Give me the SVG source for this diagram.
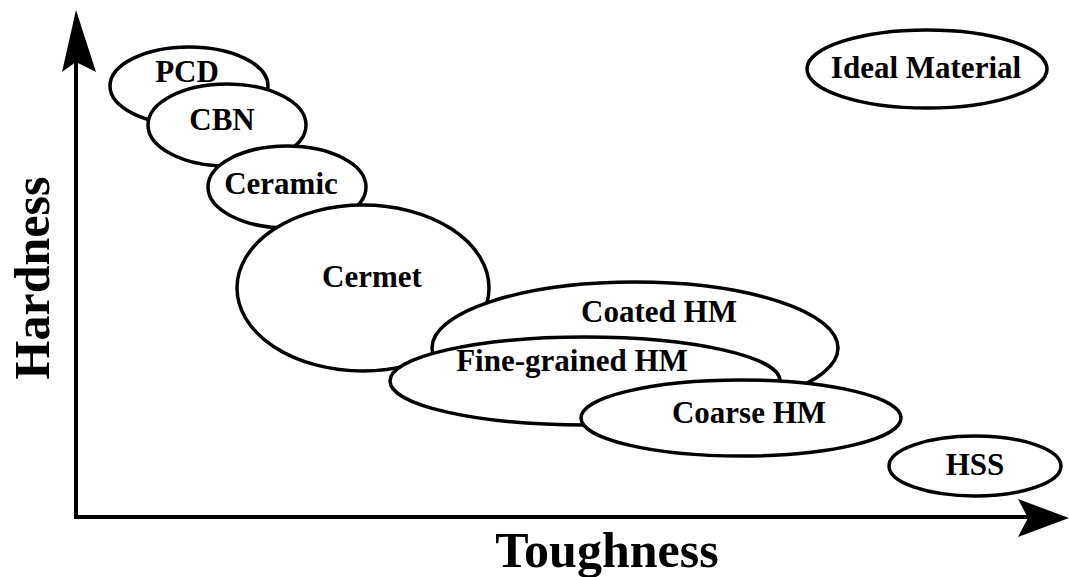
<svg xmlns="http://www.w3.org/2000/svg" width="1069" height="577" viewBox="0 0 1069 577">
<style>
.n ellipse{fill:#fff;stroke:#000;stroke-width:3.5}
text{font-family:"Liberation Serif","DejaVu Serif",serif;font-weight:bold;fill:#000;text-anchor:middle}
.l{font-size:31px}
.ax{font-size:50px}
</style>
<rect width="1069" height="577" fill="#fff"/>
<g id="connectors">
<polyline points="76,60 76,517 1030,517" fill="none" stroke="#000" stroke-width="4"/>
<polygon points="76,10 96,72 76,62 62,72" fill="#000"/>
<polygon points="1069,518 1018,537 1028,518 1018,499" fill="#000"/>
</g>
<g id="pcd" class="n"><ellipse cx="189" cy="86" rx="79" ry="39"/></g>
<g id="cbn" class="n"><ellipse cx="227" cy="125" rx="79" ry="41"/></g>
<g id="ceramic" class="n"><ellipse cx="287" cy="187" rx="79" ry="41"/></g>
<g id="cermet" class="n"><ellipse cx="363" cy="288" rx="126" ry="83"/></g>
<g id="coated" class="n"><ellipse cx="635" cy="348" rx="203" ry="66"/></g>
<g id="fine" class="n"><ellipse cx="585" cy="381" rx="195" ry="44"/></g>
<g id="coarse" class="n"><ellipse cx="741" cy="418" rx="160" ry="38"/></g>
<g id="ideal" class="n"><ellipse cx="927" cy="69" rx="120" ry="39"/></g>
<g id="hss" class="n"><ellipse cx="975" cy="466" rx="86" ry="30"/></g>
<g id="labels">
<text class="l" x="187" y="82">PCD</text>
<text class="l" x="222" y="130">CBN</text>
<text class="l" x="281" y="194">Ceramic</text>
<text class="l" x="372" y="287">Cermet</text>
<text class="l" x="659" y="322">Coated HM</text>
<text class="l" x="572" y="371">Fine-grained HM</text>
<text class="l" x="749" y="423">Coarse HM</text>
<text class="l" x="926" y="78">Ideal Material</text>
<text class="l" x="975" y="475">HSS</text>
<text class="ax" x="607" y="567">Toughness</text>
<text class="ax" transform="translate(49,278) rotate(-90)">Hardness</text>
</g>
</svg>
